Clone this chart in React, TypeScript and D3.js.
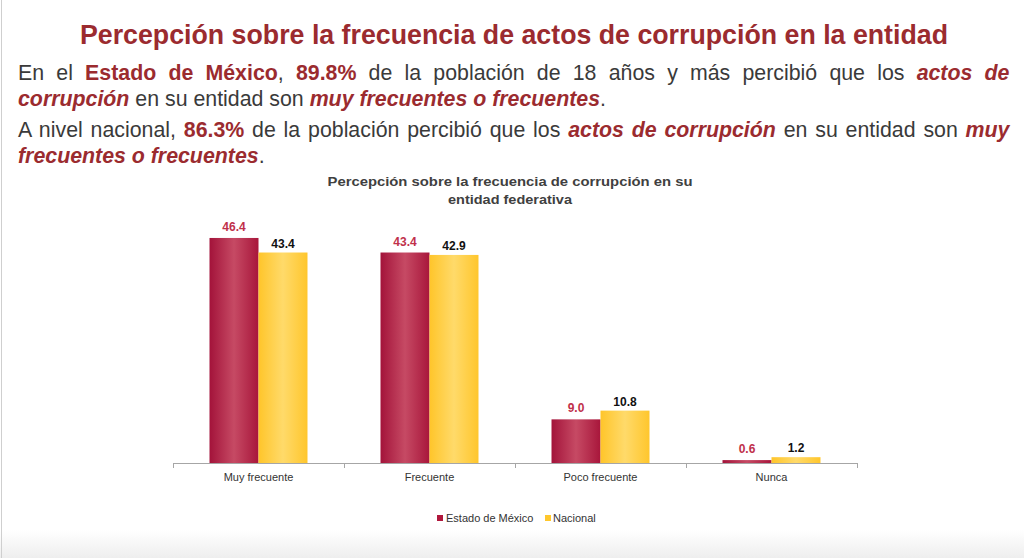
import React, { useLayoutEffect, useRef, useState } from "react";
import * as d3 from "d3";

const categories = ["Muy frecuente", "Frecuente", "Poco frecuente", "Nunca"];
const seriesNames = ["Estado de México", "Nacional"];
const edomexValues = [46.4, 43.4, 9.0, 0.6];
const nacionalValues = [43.4, 42.9, 10.8, 1.2];

const W = 1024;
const H = 558;
const RED = "#9B2B2F";
const TXT = "#3a3a3a";
const SANS = "'Liberation Sans', Arial, Helvetica, sans-serif";

type Seg = { t: string; hl?: boolean; it?: boolean };

const lines: { segs: Seg[]; y: number; target: number; justify: boolean }[] = [
  {
    y: 80, target: 992, justify: true,
    segs: [
      { t: "En el " }, { t: "Estado de México", hl: true }, { t: ", " }, { t: "89.8%", hl: true },
      { t: " de la población de 18 años y más percibió que los " }, { t: "actos de", hl: true, it: true },
    ],
  },
  {
    y: 106, target: 590, justify: false,
    segs: [
      { t: "corrupción", hl: true, it: true }, { t: " en su entidad son " },
      { t: "muy frecuentes o frecuentes", hl: true, it: true }, { t: "." },
    ],
  },
  {
    y: 137, target: 992, justify: true,
    segs: [
      { t: "A nivel nacional, " }, { t: "86.3%", hl: true }, { t: " de la población percibió que los " },
      { t: "actos de corrupción", hl: true, it: true }, { t: " en su entidad son " }, { t: "muy", hl: true, it: true },
    ],
  },
  {
    y: 163, target: 246, justify: false,
    segs: [{ t: "frecuentes o frecuentes", hl: true, it: true }, { t: "." }],
  },
];

const BASE_FS = 20;

function Para() {
  const refs = useRef<(SVGTextElement | null)[]>([]);
  const [adj, setAdj] = useState<{ fs: number; ws: number[]; tl: (number | undefined)[] }>({
    fs: BASE_FS, ws: lines.map(() => 0), tl: lines.map(() => undefined),
  });
  const [done, setDone] = useState(false);
  useLayoutEffect(() => {
    if (done) return;
    const widths = lines.map((_, i) => (refs.current[i] ? refs.current[i]!.getComputedTextLength() : 1));
    const k = (lines[1].target / widths[1] + lines[3].target / widths[3]) / 2;
    const fs = BASE_FS * k;
    const ws: number[] = [];
    const tl: (number | undefined)[] = [];
    lines.forEach((ln, i) => {
      const w = widths[i] * k;
      const text = ln.segs.map((s) => s.t).join("");
      const spaces = (text.match(/ /g) || []).length;
      if (ln.justify && w > ln.target) { ws.push(0); tl.push(ln.target); }
      else if (ln.justify && spaces > 0) { ws.push((ln.target - w) / spaces); tl.push(undefined); }
      else { ws.push(0); tl.push(undefined); }
    });
    setAdj({ fs, ws, tl });
    setDone(true);
  }, [done]);
  return (
    <g>
      {lines.map((ln, i) => (
        <text
          key={i}
          ref={(el) => { refs.current[i] = el; }}
          x={18}
          y={ln.y}
          fontFamily={SANS}
          fontSize={adj.fs}
          fill={TXT}
          style={{ wordSpacing: adj.ws[i] + "px", whiteSpace: "pre" }}
          textLength={adj.tl[i]}
          lengthAdjust={adj.tl[i] ? "spacingAndGlyphs" : undefined}
        >
          {ln.segs.map((s, j) => (
            <tspan key={j} fill={s.hl ? RED : TXT} fontWeight={s.hl ? "bold" : "normal"} fontStyle={s.it ? "italic" : "normal"}>
              {s.t}
            </tspan>
          ))}
        </text>
      ))}
    </g>
  );
}

export default function App() {
  const baseY = 463;
  const x0 = d3.scaleBand<string>().domain(categories).range([173, 857]).paddingInner(0.427).paddingOuter(0.2135);
  const x1 = d3.scaleBand<string>().domain(seriesNames).range([0, x0.bandwidth()]);
  const y = d3.scaleLinear().domain([0, 50]).range([baseY, baseY - 50 * 4.85]);
  const data = categories.map((c, i) => ({ c, vals: [edomexValues[i], nacionalValues[i]] }));
  const fills = ["url(#gRed)", "url(#gYel)"];
  const labelColors = ["#C0304A", "#111"];
  const ticks = categories.map((c) => (x0(c) as number) - (x0.step() - x0.bandwidth()) / 2).concat([857]);

  return (
    <svg width={W} height={H} style={{ position: "absolute", left: 0, top: 0, background: "#fff" }}>
      <defs>
        <linearGradient id="gRed" x1="0" x2="1" y1="0" y2="0">
          <stop offset="0" stopColor="#A3133A" />
          <stop offset="0.5" stopColor="#C64A64" />
          <stop offset="1" stopColor="#A8163B" />
        </linearGradient>
        <linearGradient id="gYel" x1="0" x2="1" y1="0" y2="0">
          <stop offset="0" stopColor="#FFC52A" />
          <stop offset="0.5" stopColor="#FFDA6A" />
          <stop offset="1" stopColor="#FFC62C" />
        </linearGradient>
        <linearGradient id="gBot" x1="0" x2="0" y1="0" y2="1">
          <stop offset="0" stopColor="#ffffff" />
          <stop offset="1" stopColor="#eeeeee" />
        </linearGradient>
      </defs>
      <rect x={0} y={0} width={W} height={H} fill="#fff" />
      <rect x={0} y={530} width={W} height={28} fill="url(#gBot)" />
      <line x1={1.5} x2={1.5} y1={0} y2={H} stroke="#cfcfcf" strokeWidth={1} />

      <text x={514} y={44} textAnchor="middle" fontFamily={SANS} fontWeight="bold" fontSize={27} fill={RED}
        textLength={868} lengthAdjust="spacingAndGlyphs">
        Percepción sobre la frecuencia de actos de corrupción en la entidad
      </text>

      <Para />

      <text x={510} y={186} textAnchor="middle" fontFamily={SANS} fontWeight="bold" fontSize={13} fill="#404040"
        textLength={365} lengthAdjust="spacingAndGlyphs">
        Percepción sobre la frecuencia de corrupción en su
      </text>
      <text x={510} y={204} textAnchor="middle" fontFamily={SANS} fontWeight="bold" fontSize={13} fill="#404040"
        textLength={124} lengthAdjust="spacingAndGlyphs">
        entidad federativa
      </text>

      {data.map((d) => (
        <g key={d.c} transform={`translate(${x0(d.c)},0)`}>
          {d.vals.map((v, k) => {
            const bx = x1(seriesNames[k]) as number;
            return (
              <g key={k}>
                <rect x={bx} y={y(v)} width={x1.bandwidth()} height={baseY - y(v)} fill={fills[k]} />
                <text x={bx + x1.bandwidth() / 2} y={y(v) - (k === 0 ? 7 : 5)} textAnchor="middle"
                  fontFamily={SANS} fontWeight="bold" fontSize={12} fill={labelColors[k]}>
                  {v.toFixed(1)}
                </text>
              </g>
            );
          })}
          <text x={x0.bandwidth() / 2} y={481} textAnchor="middle" fontFamily={SANS} fontSize={11} fill="#333">
            {d.c}
          </text>
        </g>
      ))}

      <line x1={173} x2={857} y1={baseY + 0.5} y2={baseY + 0.5} stroke="#a6a6a6" />
      {ticks.map((t, i) => (
        <line key={i} x1={t + 0.5} x2={t + 0.5} y1={baseY} y2={baseY + 5} stroke="#a6a6a6" />
      ))}

      <g fontFamily={SANS} fontSize={11} fill="#333">
        <rect x={437} y={515} width={6} height={6} fill="#B0173C" />
        <text x={446} y={522}>{seriesNames[0]}</text>
        <rect x={545} y={515} width={6} height={6} fill="#FFC72C" />
        <text x={553} y={522}>{seriesNames[1]}</text>
      </g>
    </svg>
  );
}
